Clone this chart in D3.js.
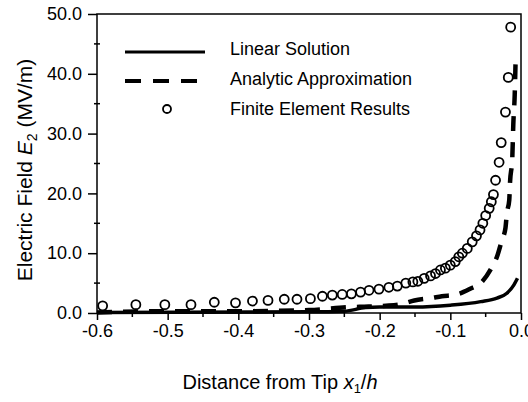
<!DOCTYPE html>
<html>
<head>
<meta charset="utf-8">
<script src="https://cdn.jsdelivr.net/npm/d3@7"></script>
<style>
  body { margin: 0; background: #fff; }
  svg text { font-family: "Liberation Sans", Arial, Helvetica, sans-serif; fill: #000; }
</style>
</head>
<body>
<div id="chart"></div>
<script>
// finite element results (circles)
var fe_x = [-0.592,-0.545,-0.504,-0.467,-0.434,-0.404,-0.380,-0.358,-0.335,-0.317,-0.298,-0.281,-0.267,-0.253,-0.240,-0.227,-0.215,-0.201,-0.187,-0.175,-0.163,-0.153,-0.146,-0.137,-0.128,-0.121,-0.114,-0.107,-0.100,-0.093,-0.088,-0.083,-0.076,-0.069,-0.063,-0.058,-0.054,-0.050,-0.045,-0.042,-0.039,-0.036,-0.031,-0.028,-0.022,-0.018,-0.0146];
var fe_y = [1.2,1.4,1.4,1.4,1.8,1.7,2.0,2.1,2.3,2.3,2.4,2.8,3.0,3.1,3.2,3.5,3.8,4.0,4.3,4.5,5.0,5.2,5.3,5.8,6.2,6.6,7.2,7.5,8.0,8.6,9.4,10.0,10.8,11.9,12.9,13.9,15.0,16.3,17.5,18.6,19.8,22.2,25.2,28.5,33.6,39.4,47.8];
// analytic approximation (dashed)
var an_x = [-0.6,-0.5,-0.4,-0.3,-0.239,-0.222,-0.191,-0.171,-0.151,-0.127,-0.112,-0.091,-0.071,-0.057,-0.041,-0.034,-0.027,-0.022,-0.020,-0.0166,-0.0156,-0.0123,-0.0109,-0.0089,-0.0075];
var an_y = [0.1,0.3,0.3,0.5,1.0,1.05,1.2,1.45,2.1,2.5,2.8,3.1,4.1,5.0,7.7,9.4,12.2,14.2,16.7,18.9,21.7,26.0,31.5,36.5,43.0];
// linear solution (solid)
var li_x = [-0.6,-0.3,-0.25,-0.22,-0.2,-0.15,-0.1,-0.057,-0.034,-0.02,-0.01,-0.005];
var li_y = [0.1,0.2,0.3,0.9,1.0,1.0,1.3,1.9,2.5,3.3,4.7,5.8];

var x_ticks = [-0.6,-0.5,-0.4,-0.3,-0.2,-0.1,0.0];
var y_ticks = [0,10,20,30,40,50];
var legend_names = ["Linear Solution","Analytic Approximation","Finite Element Results"];

var W = 528, H = 402;
var margin = {top: 14, right: 7, bottom: 89, left: 97};
var width = W - margin.left - margin.right,
    height = H - margin.top - margin.bottom;

var svg = d3.select("#chart").append("svg")
    .attr("width", W)
    .attr("height", H);
var g = svg.append("g")
    .attr("transform", "translate(" + margin.left + "," + margin.top + ")");

var x = d3.scaleLinear().domain([-0.6, 0]).range([0, width]);
var y = d3.scaleLinear().domain([0, 50]).range([height, 0]);

// minor ticks
g.selectAll(".xminor").data(d3.range(-0.55, 0, 0.1))
  .enter().append("line")
  .attr("x1", function(d){ return x(d); }).attr("x2", function(d){ return x(d); })
  .attr("y1", height).attr("y2", height + 4)
  .attr("stroke", "#000").attr("stroke-width", 1.5);
g.selectAll(".yminor").data([5,15,25,35,45])
  .enter().append("line")
  .attr("x1", -3).attr("x2", 3)
  .attr("y1", function(d){ return y(d); }).attr("y2", function(d){ return y(d); })
  .attr("stroke", "#000").attr("stroke-width", 1.5);

var xAxis = g.append("g")
    .attr("transform", "translate(0," + height + ")")
    .call(d3.axisBottom(x).tickValues(x_ticks).tickSize(7).tickPadding(4)
      .tickFormat(d3.format(".1f")));
var yAxis = g.append("g")
    .call(d3.axisLeft(y).tickValues(y_ticks).tickSize(9).tickPadding(6)
      .tickFormat(d3.format(".1f")));
[xAxis, yAxis].forEach(function(a){
  a.select(".domain").remove();
  a.selectAll("line").attr("stroke", "#000").attr("stroke-width", 1.5);
  a.selectAll("text").style("font-size", "18px").attr("fill", "#000")
   .style("font-family", "'Liberation Sans', Arial, sans-serif");
});
xAxis.selectAll("text").text(function(d){ return d3.format(".1f")(d).replace("−", "-"); });

// frame
g.append("rect").attr("width", width).attr("height", height)
  .attr("fill", "none").attr("stroke", "#000").attr("stroke-width", 1.5);

var line = d3.line()
    .x(function(d){ return x(d[0]); })
    .y(function(d){ return y(d[1]); })
    .curve(d3.curveMonotoneX);

g.append("path")
  .datum(li_x.map(function(d,i){ return [d, li_y[i]]; }))
  .attr("d", line)
  .attr("fill", "none").attr("stroke", "#000").attr("stroke-width", 3.5);

g.append("path")
  .datum(an_x.map(function(d,i){ return [d, an_y[i]]; }))
  .attr("d", line)
  .attr("fill", "none").attr("stroke", "#000").attr("stroke-width", 4.5)
  .attr("stroke-dasharray", "15,11");

g.selectAll(".fe").data(fe_x)
  .enter().append("circle")
  .attr("cx", function(d){ return x(d); })
  .attr("cy", function(d,i){ return y(fe_y[i]); })
  .attr("r", 4.5)
  .attr("fill", "none").attr("stroke", "#000").attr("stroke-width", 1.8);

// legend
var lg = svg.append("g");
lg.append("line").attr("x1", 125).attr("x2", 205).attr("y1", 52).attr("y2", 52)
  .attr("stroke", "#000").attr("stroke-width", 3);
lg.append("line").attr("x1", 125).attr("x2", 205).attr("y1", 81).attr("y2", 81)
  .attr("stroke", "#000").attr("stroke-width", 4).attr("stroke-dasharray", "16,12");
lg.append("circle").attr("cx", 167).attr("cy", 109).attr("r", 4)
  .attr("fill", "none").attr("stroke", "#000").attr("stroke-width", 1.8);
lg.selectAll(".lt").data(legend_names).enter().append("text")
  .attr("x", 230).attr("y", function(d,i){ return 55 + i*30; })
  .style("font-size", "18px").text(function(d){ return d; });

// axis titles
var xt = svg.append("text").attr("x", 280).attr("y", 389)
  .attr("text-anchor", "middle").style("font-size", "20px");
xt.append("tspan").text("Distance from Tip ");
xt.append("tspan").style("font-style", "italic").text("x");
xt.append("tspan").attr("dy", 4).style("font-size", "13px").text("1");
xt.append("tspan").attr("dy", -4).text("/");
xt.append("tspan").style("font-style", "italic").text("h");

var yt = svg.append("text").attr("transform", "translate(32,170) rotate(-90)")
  .attr("text-anchor", "middle").style("font-size", "21px");
yt.append("tspan").text("Electric Field ");
yt.append("tspan").style("font-style", "italic").text("E");
yt.append("tspan").attr("dy", 5).style("font-size", "14px").text("2");
yt.append("tspan").attr("dy", -5).text(" (MV/m)");
</script>
</body>
</html>
